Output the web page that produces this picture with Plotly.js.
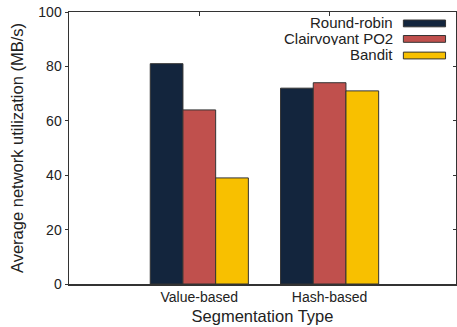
<!DOCTYPE html>
<html>
<head>
<meta charset="utf-8">
<script src="https://cdn.plot.ly/plotly-3.0.1.min.js"></script>
<style>html,body{margin:0;padding:0;background:#fff;}#chart{width:457px;height:327px;}</style>
</head>
<body>
<div id="chart"></div>
<script>
// Data
const categories = ["Value-based", "Hash-based"];
const seriesNames = ["Round-robin", "Clairvoyant PO2", "Bandit"];
const roundRobin = [81, 72];
const clairvoyantPO2 = [64, 74];
const bandit = [39, 71];
const yTickVals = [0, 20, 40, 60, 80, 100];

const colors = ["#13253d", "#c0504d", "#f8c000"];
const seriesValues = [roundRobin, clairvoyantPO2, bandit];
const FONT = "Liberation Sans, Arial, Helvetica, sans-serif";

const traces = seriesValues.map((vals, i) => ({
  type: "bar",
  name: seriesNames[i],
  x: categories,
  y: vals,
  marker: {color: colors[i], line: {color: "#333", width: 1}},
  showlegend: false,
  hoverinfo: "skip"
}));

// manual legend (text left of swatch)
const legX0 = 0.864, legX1 = 0.973, legTextX = 0.839;
const legY = [0.958, 0.901, 0.840];
const legH = 0.0125;
const shapes = [];
const annotations = [];
seriesNames.forEach((n, i) => {
  shapes.push({type: "rect", xref: "paper", yref: "paper",
    x0: legX0, x1: legX1, y0: legY[i] - legH, y1: legY[i] + legH,
    fillcolor: colors[i], line: {color: "#333", width: 1}});
  annotations.push({xref: "paper", yref: "paper", x: legTextX, y: legY[i] + 0.004,
    xanchor: "right", yanchor: "middle", text: n, showarrow: false,
    height: 14, borderpad: 0,
    font: {family: FONT, size: 15, color: "#222"}});
});

const layout = {
  width: 457, height: 327,
  margin: {l: 69, r: 1, t: 12, b: 43},
  paper_bgcolor: "#fff", plot_bgcolor: "#fff",
  barmode: "group", bargap: 0.247, bargroupgap: 0,
  font: {family: FONT, color: "#222"},
  xaxis: {
    type: "category", range: [-1, 1.97],
    showline: true, linecolor: "#333", linewidth: 1.5, mirror: true,
    ticks: "", showgrid: false, zeroline: false,
    tickfont: {family: FONT, size: 14, color: "#222"},
    title: {text: "Segmentation Type", font: {family: FONT, size: 16.5, color: "#222"}, standoff: 6}
  },
  xaxis2: {
    overlaying: "x", side: "top", type: "linear", range: [-1, 1.97],
    tickvals: categories.map((c, i) => i), ticks: "inside", ticklen: 4, tickcolor: "#333",
    showticklabels: false, showgrid: false, zeroline: false, showline: false
  },
  yaxis: {
    range: [0, 100], tickvals: yTickVals,
    showline: true, linecolor: "#333", linewidth: 1.5, mirror: true,
    ticks: "outside", ticklen: 3, tickcolor: "#333",
    showgrid: false, zeroline: false,
    tickfont: {family: FONT, size: 14, color: "#222"},
    title: {text: "Average network utilization (MB/s)", font: {family: FONT, size: 16.5, color: "#222"}, standoff: 10}
  },
  yaxis2: {
    overlaying: "y", side: "right", range: [0, 100], tickvals: yTickVals,
    ticks: "inside", ticklen: 3, tickcolor: "#333",
    showticklabels: false, showgrid: false, zeroline: false, showline: false
  },
  shapes: shapes,
  annotations: annotations
};

// invisible trace so the overlay axes (top and right mirrored ticks) are drawn
traces.push({type: "scatter", x: [0], y: [0], xaxis: "x2", yaxis: "y2", mode: "markers",
  marker: {opacity: 0}, showlegend: false, hoverinfo: "skip"});

Plotly.newPlot("chart", traces, layout, {staticPlot: true, displayModeBar: false});
</script>
</body>
</html>
